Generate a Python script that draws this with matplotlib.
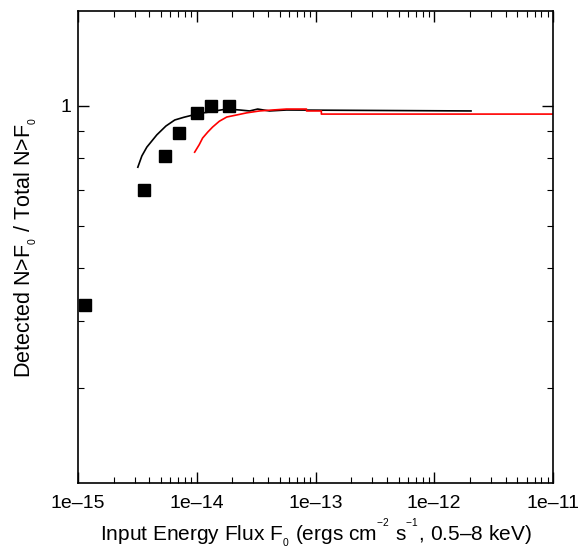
import numpy as np
import matplotlib
matplotlib.use("Agg")
from matplotlib import pyplot as plt
from matplotlib.ticker import FixedLocator, FixedFormatter, NullFormatter

plt.rcParams['font.family'] = ['Liberation Sans', 'DejaVu Sans']
plt.rcParams['mathtext.fontset'] = 'custom'
plt.rcParams['mathtext.rm'] = 'Liberation Sans'

# measured fraction (squares)
pts_x = [1.15e-15, 3.59e-15, 5.38e-15, 7.06e-15, 1.0e-14, 1.31e-14, 1.86e-14]
pts_y = [0.427, 0.698, 0.807, 0.891, 0.97, 1.0, 1.0]

# black curve
blk_x = [3.19e-15, 3.45e-15, 3.80e-15, 4.20e-15, 4.61e-15, 5.5e-15, 6.53e-15, 7.8e-15,
         9.26e-15, 1.1e-14, 1.29e-14, 1.55e-14, 1.79e-14,
         2.30e-14, 2.79e-14, 3.26e-14, 4.10e-14, 5.70e-14, 2.04e-12]
blk_y = [0.770, 0.808, 0.839, 0.862, 0.884, 0.918, 0.942, 0.953,
         0.962, 0.970, 0.975, 0.982, 0.987,
         0.983, 0.979, 0.987, 0.979, 0.983, 0.979]

# red curve
red_x = [9.6e-15, 1.05e-14, 1.12e-14, 1.24e-14, 1.36e-14, 1.55e-14, 1.79e-14, 2.2e-14,
         2.63e-14, 3.38e-14, 4.35e-14,
         5.70e-14, 8.40e-14, 8.40e-14, 1.12e-13, 1.12e-13, 1e-11]
red_y = [0.821, 0.848, 0.872, 0.895, 0.914, 0.937, 0.954, 0.963,
         0.971, 0.979, 0.983,
         0.987, 0.987, 0.979, 0.979, 0.966, 0.966]

xticks = [1e-15, 1e-14, 1e-13, 1e-12, 1e-11]
xlabels = ['1e\u201315', '1e\u201314', '1e\u201313', '1e\u201312', '1e\u201311']

fig = plt.figure(figsize=(5.82, 5.52), dpi=100)
ax = fig.add_axes([78/582, 1 - 483/552, (553-78)/582, (483-11)/552])

ax.plot(blk_x, blk_y, color='black', lw=1.2)
ax.plot(red_x, red_y, color='red', lw=1.2)
ax.plot(pts_x, pts_y, 's', color='black', ms=8.5, mec='black')

ax.set_xscale('log')
ax.set_yscale('log')
ax.set_xlim(1e-15, 1e-11)
ax.set_ylim(0.2, 1.5)

ax.xaxis.set_major_locator(FixedLocator(xticks))
ax.xaxis.set_major_formatter(FixedFormatter(xlabels))
ax.xaxis.set_minor_formatter(NullFormatter())
ax.yaxis.set_major_locator(FixedLocator([1.0]))
ax.yaxis.set_major_formatter(FixedFormatter(['1']))
ax.yaxis.set_minor_locator(FixedLocator([0.3, 0.4, 0.5, 0.6, 0.7, 0.8, 0.9]))
ax.yaxis.set_minor_formatter(NullFormatter())

ax.tick_params(which='both', direction='in', top=True, right=True, labelsize=14)
ax.tick_params(which='major', length=8, width=1)
ax.tick_params(which='minor', length=4, width=0.8)
ax.tick_params(axis='x', pad=9)
ax.tick_params(axis='y', pad=5)
for s in ax.spines.values():
    s.set_linewidth(1.2)

ax.set_xlabel('Input Energy Flux F$_{_0}$ (ergs cm$^{^{-2}}$ s$^{^{-1}}$, 0.5\u20138 keV)',
              fontsize=15, labelpad=3)
ax.set_ylabel('Detected N>F$_{_0}$ / Total N>F$_{_0}$', fontsize=15.5, labelpad=15)

fig.savefig('out.png', dpi=100)
